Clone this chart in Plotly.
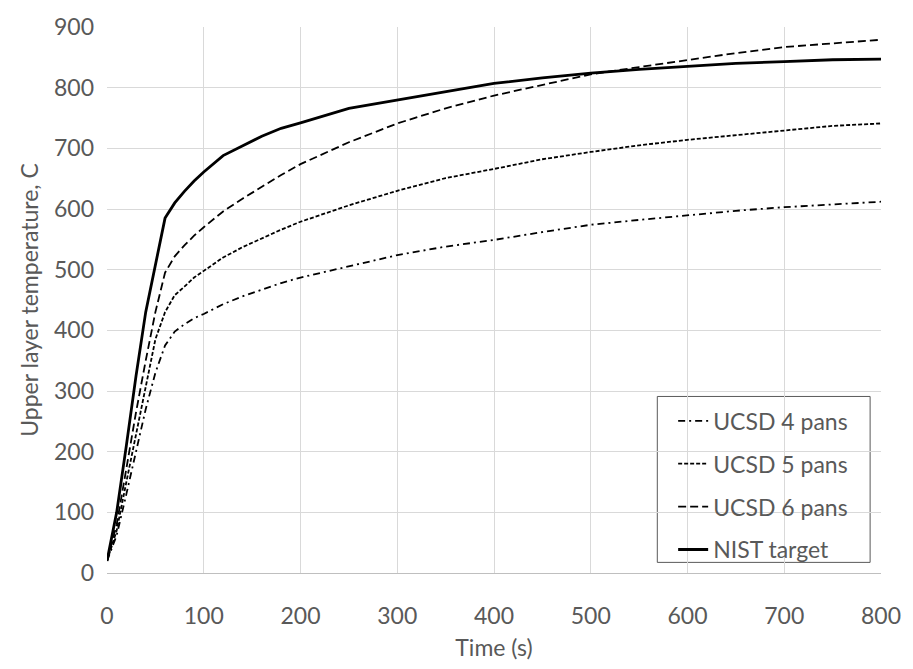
import plotly.graph_objects as go

# Time axis (s) and upper layer temperature (C) for each case
time_s = [0, 10, 20, 30, 40, 50, 60, 70, 80, 90, 100, 120, 140, 160, 180, 200,
          250, 300, 350, 400, 450, 500, 550, 600, 650, 700, 750, 800]

ucsd_4_pans = [20, 62, 130, 202, 270, 330, 375, 398, 410, 420, 427, 443, 456, 467, 478, 487,
               505, 524, 538, 549, 562, 574, 582, 590, 597, 603, 608, 612]
ucsd_5_pans = [20, 70, 150, 230, 310, 385, 430, 458, 472, 487, 498, 520, 537, 552, 566, 579,
               606, 630, 651, 666, 682, 694, 705, 714, 722, 730, 737, 741]
ucsd_6_pans = [20, 80, 172, 265, 350, 430, 495, 522, 540, 556, 570, 596, 617, 637, 656, 674,
               710, 741, 766, 787, 804, 822, 834, 846, 857, 867, 873, 879]
nist_target = [20, 100, 210, 325, 430, 510, 585, 610, 629, 646, 661, 688, 704, 720, 733, 742,
               766, 780, 794, 807, 816, 824, 830, 835, 840, 843, 846, 847]

x_ticks = [0, 100, 200, 300, 400, 500, 600, 700, 800]
y_ticks = [0, 100, 200, 300, 400, 500, 600, 700, 800, 900]

FONT = "Lato"
TEXT = "#595959"
GRID = "#d9d9d9"
FS = 23

# plot area in pixels
L, R, T, B = 107, 889, 16, 582
W, H = 913, 669

series = [
    ("UCSD 4 pans", ucsd_4_pans, "7px,4px,2px,4px", 1.8),
    ("UCSD 5 pans", ucsd_5_pans, "4px,2px", 1.8),
    ("UCSD 6 pans", ucsd_6_pans, "8px,4px", 1.8),
    ("NIST target", nist_target, "solid", 2.8),
]

fig = go.Figure()
for i, (name, vals, dash, width) in enumerate(series):
    fig.add_trace(go.Scatter(
        x=time_s, y=vals, mode="lines", name=name, legendgroup=f"g{i}",
        line=dict(color="black", width=width, dash=dash),
    ))

def px_x(p):
    return (p - L) / (R - L)

def px_y(p):
    return 1 - (p - T) / (B - T)

# legend frame
fig.add_shape(
    type="rect", xref="paper", yref="paper",
    x0=px_x(663), x1=px_x(878), y0=px_y(571), y1=px_y(399),
    line=dict(color="#595959", width=1), fillcolor="white", layer="between",
)

fig.update_layout(
    width=W, height=H,
    margin=dict(l=L, r=W - R, t=T, b=H - B),
    paper_bgcolor="white", plot_bgcolor="white",
    font=dict(family=FONT, size=FS, color=TEXT),
    showlegend=True,
    legend=dict(
        x=px_x(679), y=px_y(402),
        xanchor="left", yanchor="top",
        bgcolor="rgba(0,0,0,0)", borderwidth=0,
        font=dict(family=FONT, size=FS, color=TEXT),
        tracegroupgap=10, itemwidth=30,
    ),
    xaxis=dict(
        range=[0, 800], tickvals=x_ticks, ticktext=[str(v) for v in x_ticks],
        showgrid=True, gridcolor=GRID, gridwidth=1,
        showline=True, linecolor="#bfbfbf", linewidth=1,
        zeroline=False, ticks="", ticklabelstandoff=22,
        title=dict(text="Time (s)", standoff=12, font=dict(size=FS, color=TEXT)),
    ),
    yaxis=dict(
        range=[0, 900], tickvals=y_ticks, ticktext=[str(v) for v in y_ticks],
        showgrid=True, gridcolor=GRID, gridwidth=1,
        showline=False, zeroline=False, ticks="", ticklabelstandoff=12,
        title=dict(text="Upper layer temperature, C", standoff=8, font=dict(size=FS, color=TEXT)),
    ),
)

fig.write_html("out.html")
